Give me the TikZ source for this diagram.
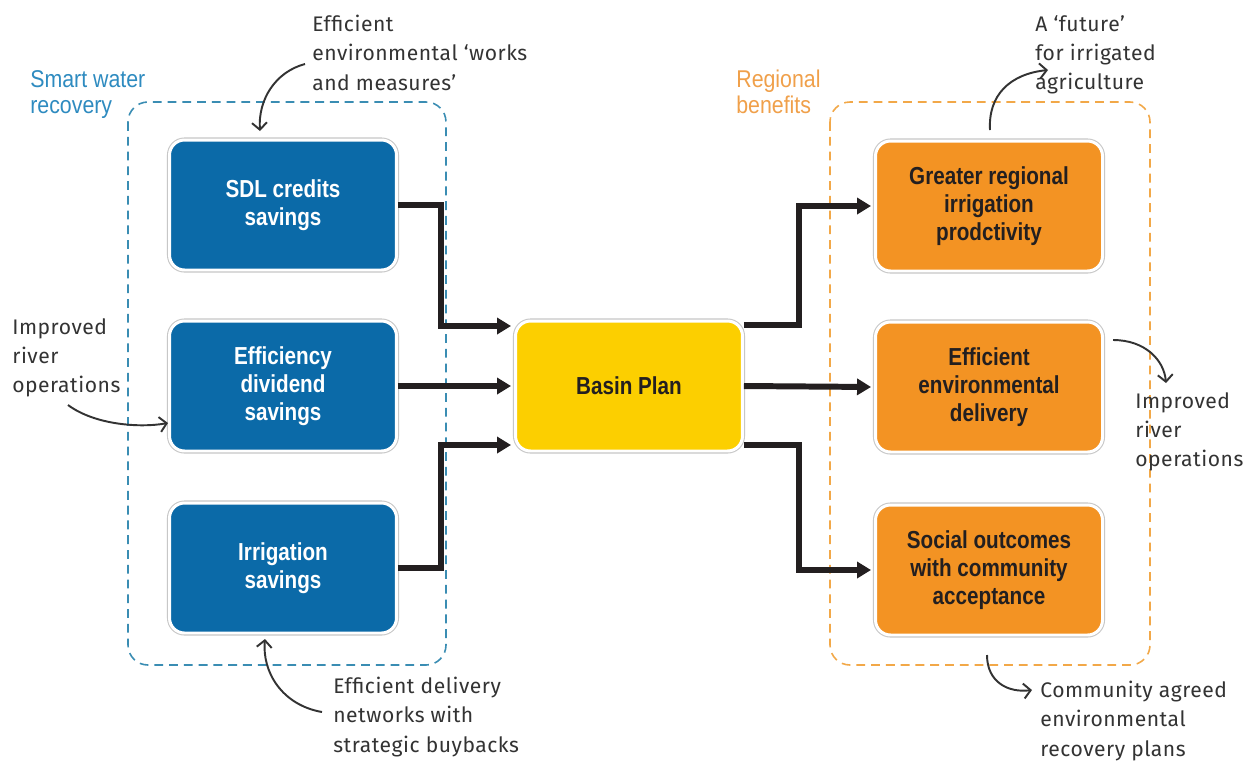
\documentclass[tikz,border=0pt]{standalone}
\usepackage{fontspec}
\setmainfont{Liberation Sans}
\newfontfamily\boxfont{Liberation Sans}[FakeStretch=0.84]
\newfontfamily\labelfont{Liberation Sans}[FakeStretch=0.88]
\newfontfamily\notefont{Fira Sans}[LetterSpace=2.5]
\usetikzlibrary{arrows.meta,calc}

\definecolor{recblue}{HTML}{0B6AA8}
\definecolor{planyellow}{HTML}{FCCF00}
\definecolor{benorange}{HTML}{F39323}
\definecolor{frameblue}{HTML}{3A8DB3}
\definecolor{labelblue}{HTML}{2E8BC0}
\definecolor{frameorange}{HTML}{F2A848}
\definecolor{labelorange}{HTML}{F0A04A}
\definecolor{darktext}{HTML}{231F20}
\definecolor{ink}{HTML}{333333}

\tikzset{
  panel/.style={rounded corners=0.3cm, minimum width=4.54cm, minimum height=2.6cm,
    draw=white, line width=1.7pt, preaction={draw=black!22, line width=2.9pt},
    align=center, inner sep=0pt,
    font=\boxfont\bfseries\fontsize{14}{16}\selectfont},
  bluepanel/.style={panel, fill=recblue, text=white},
  orangepanel/.style={panel, fill=benorange, text=darktext},
  yellowpanel/.style={panel, fill=planyellow, text=darktext},
  groupframe/.style={line width=0.9pt, dash pattern=on 5pt off 3.4pt, rounded corners=0.4cm},
  grouplabel/.style={anchor=north west, align=left, inner sep=0pt,
    font=\labelfont\fontsize{13.8}{14.8}\selectfont},
  note/.style={anchor=north west, align=left, inner sep=0pt, text=ink,
    font=\notefont\fontsize{12}{16.6}\selectfont},
  flow/.style={draw=darktext, line width=3.4pt,
    -{Triangle[length=0.28cm,width=0.32cm]}, shorten >=0.06cm},
  pointer/.style={draw=ink, line width=1.1pt,
    -{Straight Barb[length=0.14cm,width=0.3cm]}}
}

\begin{document}
\begin{tikzpicture}[x=0.02cm,y=-0.02cm]
\path[use as bounding box, fill=white] (0,0) rectangle (1250,762);

% group frames
\draw[groupframe, frameblue] (128,102) rectangle (446,665);
\draw[groupframe, frameorange] (830,102) rectangle (1150,665);

% group titles
\node[grouplabel, text=labelblue] (smartlbl) at (30,70) {Smart water\\recovery};
\node[grouplabel, text=labelorange] (regionlbl) at (736,70) {Regional\\benefits};

% main boxes
\node[bluepanel] (sdl) at (283,205) {SDL credits\\savings};
\node[bluepanel] (eff) at (283,386) {Efficiency\\dividend\\savings};
\node[bluepanel] (irr) at (283,568) {Irrigation\\savings};
\node[yellowpanel] (basin) at (629,386) {Basin Plan};
\node[orangepanel] (grow) at (989,206) {Greater regional\\irrigation\\prodctivity};
\node[orangepanel] (env) at (989,387) {Efficient\\environmental\\delivery};
\node[orangepanel] (soc) at (989,570) {Social outcomes\\with community\\acceptance};

% flows into the plan
\draw[flow] (sdl.east) -- ++(43,0) |- ($(basin.west)+(0,-60)$);
\draw[flow] (eff.east) -- (basin.west);
\draw[flow] (irr.east) -- ++(43,0) |- ($(basin.west)+(0,59)$);

% flows out of the plan
\draw[flow] ($(basin.east)+(0,-61)$) -- ++(55,0) |- (grow.west);
\draw[flow] (basin.east) -- (env.west);
\draw[flow] ($(basin.east)+(0,59)$) -- ++(55,0) |- (soc.west);

% side notes
\node[note] (worksnote) at (312,15) {Efficient\\environmental ‘works\\and measures’};
\node[note] (rivernoteL) at (12,318) {Improved\\river\\operations};
\node[note] (delivnote) at (333,677) {Efficient delivery\\networks with\\strategic buybacks};
\node[note] (futurenote) at (1035,15) {A ‘future’\\for irrigated\\agriculture};
\node[note] (rivernoteR) at (1135,392) {Improved\\river\\operations};
\node[note] (commnote) at (1040,681) {Community agreed\\environmental\\recovery plans};

% pointer ends
\coordinate (p1s) at (305,64);   \coordinate (p1e) at (260,131);
\coordinate (p2s) at (68,405);   \coordinate (p2e) at (168,423);
\coordinate (p3s) at (322,712);  \coordinate (p3e) at (265,639);
\coordinate (p4s) at (990,130);  \coordinate (p4e) at (1048,70);
\coordinate (p5s) at (1113,340); \coordinate (p5e) at (1166,383);
\coordinate (p6s) at (987,655);  \coordinate (p6e) at (1032,690);

\draw[pointer] (p1s) .. controls (275,72) and (258,100) .. (p1e);
\draw[pointer] (p2s) .. controls (95,425) and (140,428) .. (p2e);
\draw[pointer] (p3s) .. controls (282,705) and (262,672) .. (p3e);
\draw[pointer] (p4s) .. controls (988,95) and (1010,74) .. (p4e);
\draw[pointer] (p5s) .. controls (1145,340) and (1164,360) .. (p5e);
\draw[pointer] (p6s) .. controls (987,682) and (1008,693) .. (p6e);
\end{tikzpicture}
\end{document}
